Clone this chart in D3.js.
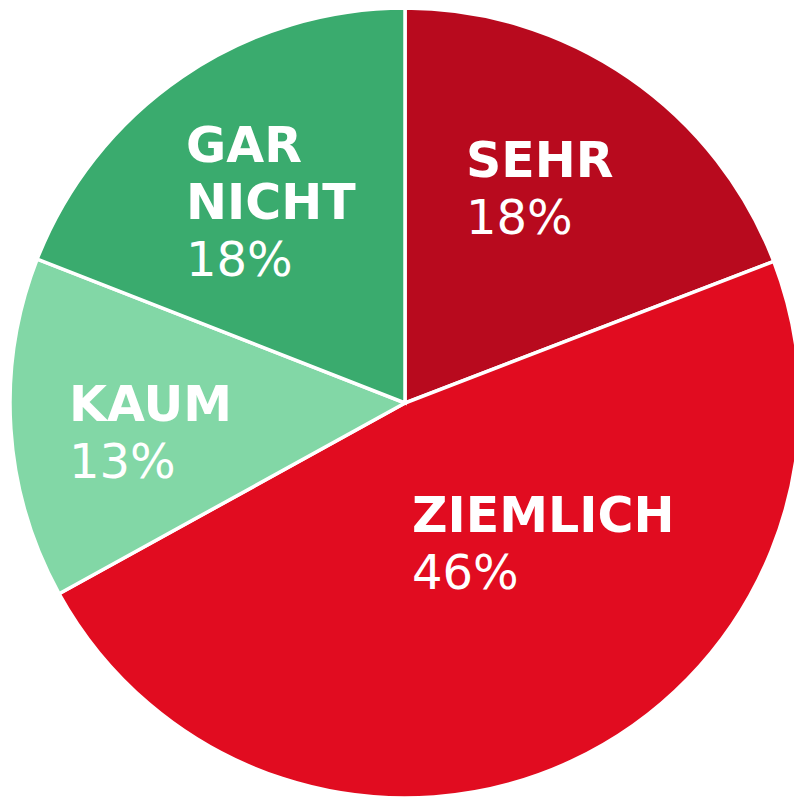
<!DOCTYPE html>
<html>
<head>
<meta charset="utf-8">
<script src="https://cdn.jsdelivr.net/npm/d3@7"></script>
<style>
  body { margin: 0; background: #fff; }
  svg { display: block; }
</style>
</head>
<body>
<script>
// Data (shares, labels show them rounded)
var categories = ["SEHR", "ZIEMLICH", "KAUM", "GAR NICHT"];
var values = [18.4, 45.9, 13.4, 18.3];
var colors = ["#b80a1e", "#e10c20", "#82d7a6", "#3aab6e"];

var width = 794, height = 798,
    cx = 405, cy = 403,
    radius = 395;

// label anchors (left x, first baseline) relative to the pie centre
var labelPos = {
  "SEHR": [61, -226],
  "ZIEMLICH": [7, 129],
  "KAUM": [-336, 18],
  "GAR NICHT": [-219, -241]
};
var lineHeight = 57;

var svg = d3.select("body").append("svg")
    .attr("width", width)
    .attr("height", height);

var g = svg.append("g")
    .attr("transform", "translate(" + cx + "," + cy + ")");

var pie = d3.pie().sort(null).value(function (d) { return d.value; });
var arc = d3.arc().innerRadius(0).outerRadius(radius);

var data = categories.map(function (c, i) { return { key: c, value: values[i], color: colors[i] }; });

g.selectAll("path")
  .data(pie(data))
  .enter().append("path")
    .attr("d", arc)
    .attr("fill", function (d) { return d.data.color; })
    .attr("stroke", "#fff")
    .attr("stroke-width", 3.5)
    .attr("stroke-linejoin", "miter");

// Labels
var labels = g.selectAll("text.lbl")
  .data(data)
  .enter().append("text")
    .attr("class", "lbl")
    .attr("fill", "#fff")
    .attr("font-family", "DejaVu Sans, Verdana, sans-serif")
    .attr("font-size", 49);

labels.each(function (d) {
  var t = d3.select(this),
      p = labelPos[d.key],
      words = d.key.split(" ");
  words.forEach(function (w, i) {
    t.append("tspan")
      .attr("x", p[0])
      .attr("y", p[1] + i * lineHeight)
      .attr("font-weight", "bold")
      .text(w);
  });
  t.append("tspan")
    .attr("x", p[0])
    .attr("y", p[1] + words.length * lineHeight)
    .attr("font-size", 48)
    .text(Math.round(d.value) + "%");
});
</script>
</body>
</html>
